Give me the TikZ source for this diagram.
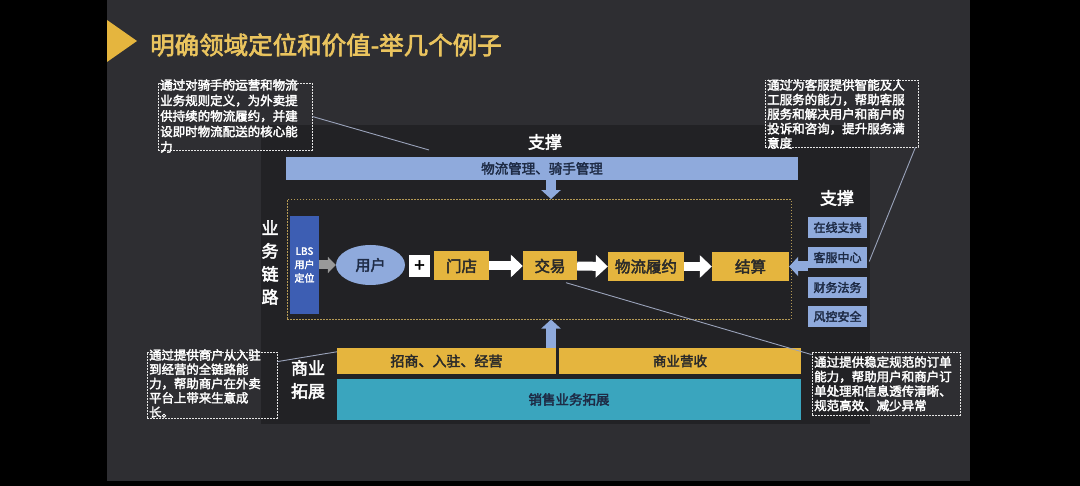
\documentclass[tikz,border=0pt]{standalone}
\usepackage{fontspec}
\setmainfont{Noto Sans CJK SC}[FakeBold=2.6]
\usetikzlibrary{shapes.geometric,arrows.meta}
\definecolor{slide}{HTML}{2E2E32}
\definecolor{panel}{HTML}{222225}
\definecolor{gold}{HTML}{E5B53E}
\definecolor{titlegold}{HTML}{EAC45E}
\definecolor{lblue}{HTML}{8FAADC}
\definecolor{dblue}{HTML}{3D5EB3}
\definecolor{tealc}{HTML}{3AA5BE}
\definecolor{navy}{HTML}{1E2B45}
\definecolor{dotgold}{HTML}{B59A55}
\definecolor{linec}{HTML}{9AA3BA}
\definecolor{darktxt}{HTML}{2A2A2A}
\tikzset{
  lbl/.style={text=white, inner sep=0, align=center, font=\fontsize{17}{23}\selectfont},
  goldbox/.style={rectangle, fill=gold, text=darktxt, inner sep=0, font=\fontsize{15.5}{18}\selectfont},
  barbox/.style={rectangle, inner sep=0, font=\fontsize{13.5}{16}\selectfont},
  sidebox/.style={rectangle, fill=lblue, text=navy, inner sep=0, minimum width=59, minimum height=21.5, font=\fontsize{12}{14}\selectfont},
  calloutbox/.style={rectangle, draw=white!80!gray, line width=0.8pt, dash pattern=on 1.6pt off 1.4pt, inner sep=0},
  callouttxt/.style={text=white, inner sep=0, align=left, anchor=north west},
  conn/.style={draw=linec, line width=0.9pt},
  whitearrow/.style={draw=white, line width=9pt, -{Triangle[width=22pt,length=12pt]}},
  bluearrow/.style={draw=lblue, line width=10pt, -{Triangle[width=19pt,length=9pt]}},
  grayarrow/.style={draw=gray!80, line width=9pt, -{Triangle[width=16pt,length=8pt]}},
}
\begin{document}
\begin{tikzpicture}[x=1pt,y=-1pt]
\useasboundingbox (0,0) rectangle (1080,486);
\fill[black] (0,0) rectangle (1080,486);
\fill[slide] (107,0) rectangle (970,481);
\fill[panel] (261,125) rectangle (870,424);
% title
\fill[gold] (107,20) -- (137,41) -- (107,62) -- cycle;
\node[anchor=west, inner sep=0, text=titlegold, font=\fontsize{24.5}{28}\selectfont] (title) at (150,45) {明确领域定位和价值-举几个例子};
% top support
\node[lbl] (sup1) at (545,142) {支撑};
\node[barbox, fill=lblue, text=navy, minimum width=512, minimum height=23] (bar1) at (542,168.5) {物流管理、骑手管理};
\node[rectangle, draw=dotgold, line width=1pt, dash pattern=on 1.5pt off 1.5pt, minimum width=504, minimum height=119.5, inner sep=0] (flow) at (539,259.3) {};
\coordinate (ax) at (551,0);
\draw[bluearrow] (bar1.south -| ax) -- (flow.north -| ax);
% business chain
\node[lbl] (ywl) at (270,262.5) {业\\务\\链\\路};
\node[rectangle, fill=dblue, text=white, inner sep=0, minimum width=29, minimum height=98, align=center, font=\fontsize{10}{13.5}\selectfont] (lbs) at (304.5,265) {LBS\\用户\\定位};
\node[ellipse, fill=lblue, text=navy, inner sep=0, minimum width=69, minimum height=40, font=\fontsize{15}{18}\selectfont] (user) at (370.5,265) {用户};
\draw[grayarrow] (lbs.east) -- (user.west);
\node[rectangle, fill=white, text=black, inner sep=0, minimum width=21, minimum height=22, font=\fontsize{18}{18}\selectfont] (plus) at (419.5,266) {+};
\node[goldbox, minimum width=55, minimum height=29] (md) at (461.5,266) {门店};
\node[goldbox, minimum width=54, minimum height=29] (jy) at (550,266) {交易};
\node[goldbox, minimum width=76, minimum height=29] (wl) at (646,266.5) {物流履约};
\node[goldbox, minimum width=77, minimum height=29] (js) at (750.5,266.5) {结算};
\draw[whitearrow] (md.east) -- (jy.west);
\draw[whitearrow] (jy.east) -- (wl.west);
\draw[whitearrow] (wl.east) -- (js.west);
% right support
\node[lbl] (sup2) at (837,198) {支撑};
\node[sidebox] (zx) at (837.5,227.5) {在线支持};
\node[sidebox] (kf) at (837.5,257.5) {客服中心};
\node[sidebox] (cw) at (837.5,287.5) {财务法务};
\node[sidebox] (fk) at (837.5,316.5) {风控安全};
\draw[bluearrow] (kf.west |- js.east) -- (js.east);
% commercial expansion
\node[lbl] (syt) at (308,379.5) {商业\\拓展};
\node[barbox, fill=gold, text=darktxt, minimum width=219, minimum height=26, font=\fontsize{14}{16}\selectfont] (g1) at (446.5,361) {招商、入驻、经营};
\node[barbox, fill=gold, text=darktxt, minimum width=242, minimum height=26] (g2) at (680,361) {商业营收};
\node[barbox, fill=tealc, text=navy, minimum width=464, minimum height=41] (tl) at (569,399.5) {销售业务拓展};
\draw[bluearrow] (g1.north -| ax) -- (flow.south -| ax);
% callouts
\node[calloutbox, minimum width=154, minimum height=67] (cTLbox) at (235,116.5) {};
\node[callouttxt, font=\fontsize{12.5}{15.5}\selectfont] (cTL) at (160,79) {通过对骑手的运营和物流\\业务规则定义，为外卖提\\供持续的物流履约，并建\\设即时物流配送的核心能\\力};
\coordinate (tlend) at (429,150);
\draw[conn] (cTLbox.east) -- (tlend);

\node[calloutbox, minimum width=153, minimum height=67] (cTRbox) at (841.5,113.5) {};
\node[callouttxt, font=\fontsize{12.5}{14.5}\selectfont] (cTR) at (767,79) {通过为客服提供智能及人\\工服务的能力，帮助客服\\服务和解决用户和商户的\\投诉和咨询，提升服务满\\意度};
\draw[conn] ([xshift=-3pt]cTRbox.south east) -- ([shift={(2,4)}]kf.east);

\node[calloutbox, minimum width=130, minimum height=66] (cBLbox) at (212,385) {};
\node[callouttxt, font=\fontsize{12.4}{14.3}\selectfont] (cBL) at (149,349) {通过提供商户从入驻\\到经营的全链路能\\力，帮助商户在外卖\\平台上带来生意成\\长。};
\draw[conn] ([yshift=-10pt]cBLbox.north east) -- ([yshift=-4pt]g1.north west);

\node[calloutbox, minimum width=148, minimum height=63] (cBRbox) at (886,383.5) {};
\node[callouttxt, font=\fontsize{12.5}{14.5}\selectfont] (cBR) at (814,356) {通过提供稳定规范的订单\\能力，帮助用户和商户订\\单处理和信息透传清晰、\\规范高效、减少异常};
\draw[conn] ([xshift=16pt,yshift=-2pt]jy.south) -- ([yshift=-3pt]cBRbox.north west);
\end{tikzpicture}
\end{document}
